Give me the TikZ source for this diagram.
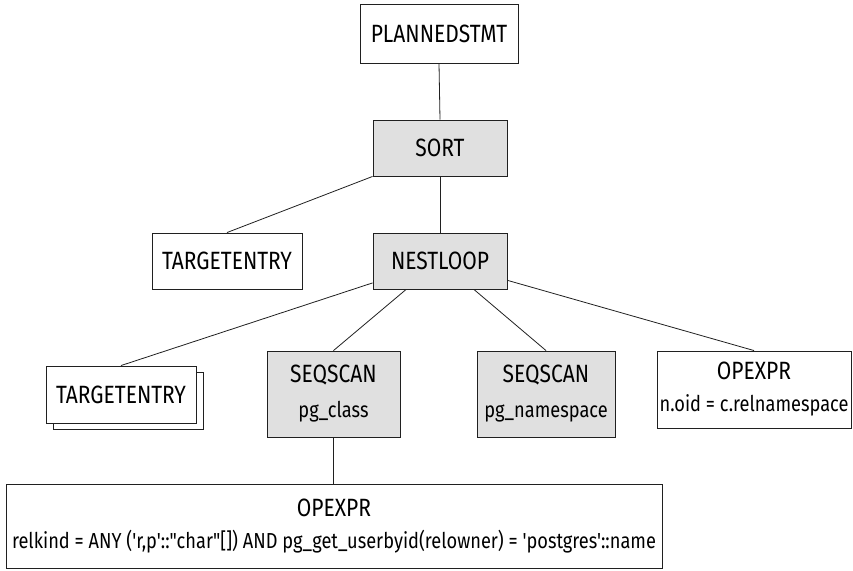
\documentclass[tikz,border=0pt]{standalone}
\usepackage{fontspec}
\newfontfamily\diafont[FakeStretch=0.84]{Fira Sans}
\usetikzlibrary{shadows}
\definecolor{boxgray}{HTML}{E0E0E0}
\definecolor{edgecol}{HTML}{202020}
\newcommand{\subtext}[1]{{\fontsize{21.7}{25}\selectfont #1}}
\begin{document}
\begin{tikzpicture}[x=1pt,y=-1pt,
  every node/.style={font=\diafont\fontsize{25}{28}\selectfont},
  plainbox/.style={draw=edgecol,line width=0.9pt,fill=white,inner sep=0pt,align=center},
  graybox/.style={plainbox,fill=boxgray},
  conn/.style={draw=edgecol,line width=0.8pt}]
\useasboundingbox (0,0) rectangle (853,570);
\node[plainbox,minimum width=158pt,minimum height=59pt] (plan) at (439,33.5) {PLANNEDSTMT};
\node[graybox,minimum width=134pt,minimum height=56pt] (sort) at (440,148) {SORT};
\node[plainbox,minimum width=150pt,minimum height=56pt] (target1) at (227,261) {TARGETENTRY};
\node[graybox,minimum width=134pt,minimum height=56pt] (nest) at (440,261) {NESTLOOP};
\node[plainbox,minimum width=150pt,minimum height=57pt,
  copy shadow={shadow xshift=7pt,shadow yshift=-6pt,fill=white,draw=edgecol,line width=0.9pt}]
  (stack) at (121,394.5) {TARGETENTRY};
\node[graybox,minimum width=133pt,minimum height=86pt] (seq1) at (333.5,394)
  {SEQSCAN\\[7pt]\subtext{pg\_class}};
\node[graybox,minimum width=138pt,minimum height=86pt] (seq2) at (546,394)
  {SEQSCAN\\[7pt]\subtext{pg\_namespace}};
\node[plainbox,minimum width=194pt,minimum height=77pt] (op1) at (754,389.5)
  {OPEXPR\\[4pt]\subtext{n.oid = c.relnamespace}};
\node[plainbox,minimum width=656pt,minimum height=84pt] (op2) at (334,526)
  {OPEXPR\\[4pt]\subtext{relkind = ANY ('r,p'::"char"[]) AND pg\_get\_userbyid(relowner) = 'postgres'::name}};
\draw[conn] (plan.south) -- (sort.north);
\draw[conn] (sort.south) -- (nest.north);
\draw[conn] (sort.south west) -- (target1.north);
\draw[conn] (nest.198) -- (stack.north);
\draw[conn] (nest.220) -- (seq1.north);
\draw[conn] (nest.320) -- (seq2.north);
\draw[conn] (nest.344) -- (op1.north);
\draw[conn] (seq1.south) -- (op2.north -| seq1.south);
\end{tikzpicture}
\end{document}
